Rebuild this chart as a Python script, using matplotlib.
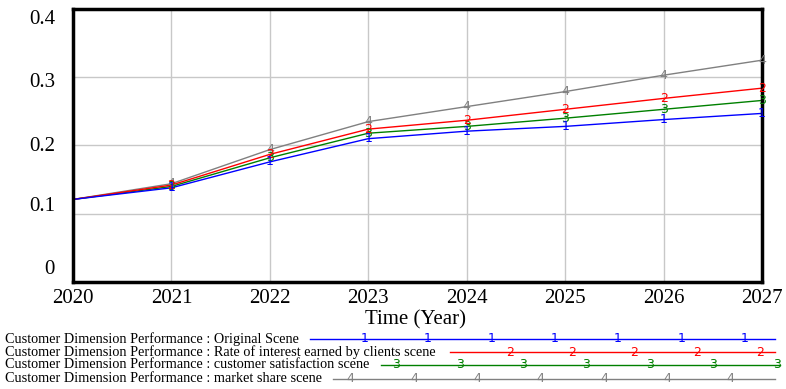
import matplotlib.pyplot as plt
from matplotlib.lines import Line2D

plt.rcParams['font.family'] = ['Liberation Serif', 'DejaVu Serif']

years = [2020, 2021, 2022, 2023, 2024, 2025, 2026, 2027]
original = [0.121, 0.138, 0.176, 0.210, 0.221, 0.228, 0.238, 0.247]
interest = [0.121, 0.142, 0.187, 0.224, 0.237, 0.253, 0.269, 0.284]
satisfaction = [0.121, 0.140, 0.182, 0.218, 0.228, 0.240, 0.253, 0.266]
market = [0.121, 0.144, 0.194, 0.235, 0.257, 0.279, 0.303, 0.325]

names = ["Customer Dimension Performance : Original Scene",
         "Customer Dimension Performance : Rate of interest earned by clients scene",
         "Customer Dimension Performance : customer satisfaction scene",
         "Customer Dimension Performance : market share scene"]
series = [original, interest, satisfaction, market]
colors = ["#0000ff", "#ff0000", "#008000", "#808080"]
y_ticks = [0, 0.1, 0.2, 0.3, 0.4]

fig = plt.figure(figsize=(7.86, 3.89), dpi=100)
ax = fig.add_axes([73 / 786, 1 - 282 / 389, (762 - 73) / 786, (282 - 9) / 389])

# draw in reverse so blue sits on top, like the original
for i in [3, 2, 1, 0]:
    ax.plot(years, series[i], color=colors[i], lw=1)
    for x, y in zip(years[1:], series[i][1:]):
        ax.text(x, y, str(i + 1), color=colors[i], fontsize=9, family='DejaVu Sans',
                ha='center', va='center')

ax.set_xlim(2020, 2027)
ax.set_ylim(0, 0.4)
ax.set_xticks(years)
ax.set_yticks(y_ticks)
ax.grid(True, color='#c8c8c8', lw=1)
ax.tick_params(length=0, labelleft=False, labelbottom=False)
for s in ax.spines.values():
    s.set_linewidth(2.5)

# x tick labels
for yr in years:
    ax.text(yr, -0.059, str(yr), ha='center', va='center', fontsize=15,
            transform=ax.get_xaxis_transform())

# Vensim-style y labels, spread evenly
label_pos = [0.044, 0.275, 0.498, 0.729, 0.960]
for v, p in zip(y_ticks, label_pos):
    lab = "0" if v == 0 else f"{v:.1f}"
    ax.text(-0.026, p, lab, ha='right', va='center', fontsize=15, transform=ax.transAxes)

fig.text(416 / 786, 1 - 320 / 389, "Time (Year)", ha='center', va='center', fontsize=15)

# legend rows
rows_y = [339, 352, 365, 379]
line_x = [(310, 775), (450, 775), (381, 780), (333, 775)]
marks = [[365, 428, 492, 555, 618, 682, 745],
         [510, 572, 634, 697, 760],
         [396, 460, 523, 586, 650, 713, 777],
         [350, 414, 477, 540, 604, 667, 730]]
for i in range(4):
    yy = 1 - rows_y[i] / 389
    fig.text(5 / 786, yy, names[i], ha='left', va='center', fontsize=10.3)
    x0, x1 = line_x[i]
    fig.add_artist(Line2D([x0 / 786, x1 / 786], [yy, yy], color=colors[i], lw=1,
                          transform=fig.transFigure))
    for mx in marks[i]:
        fig.text(mx / 786, yy, str(i + 1), color=colors[i], fontsize=9, family='DejaVu Sans',
                 ha='center', va='center')

fig.savefig("out.png", dpi=100)
